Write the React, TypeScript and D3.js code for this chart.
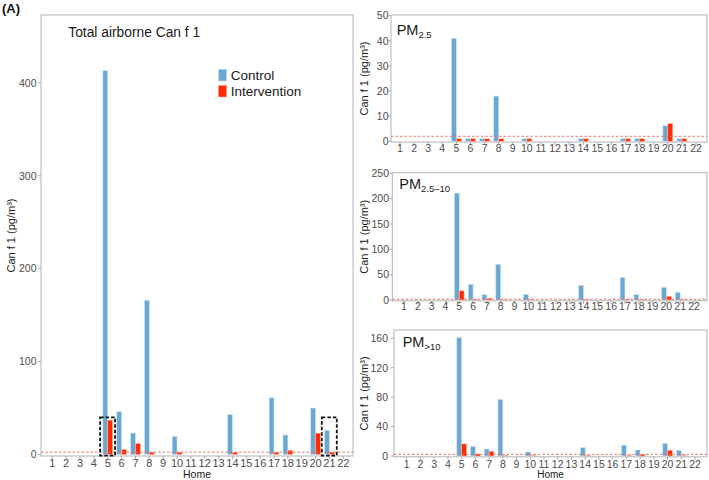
import React from "react";
import * as d3 from "d3";

const homes = ["1","2","3","4","5","6","7","8","9","10","11","12","13","14","15","16","17","18","19","20","21","22"];

const totalControl = [0,0,0,0,413,46,23,166,0,19.5,0,0,0,43,0,0,61,21,0,50,26,0];
const totalIntervention = [0,0,0,0,37,5.5,12,2.5,0,2.5,0,0,0,2.5,0,0,2.5,4.5,0,23,2.5,0];
const pm25Control = [0,0,0,0,41,1,1,18,0,1,0,0,0,1,0,0,1,1,0,6.2,1,0];
const pm25Intervention = [0,0,0,0,1,1,1,1,0,1,0,0,0,1,0,0,1,1,0,7,1,0];
const pm2510Control = [0,0,0,0,211,31,10.5,70.5,0,11,0,0,0,29,0,0,44,10.5,0,25,15,0];
const pm2510Intervention = [0,0,0,0,18,1,3.4,1,0,1,0,0,0,1,0,0,1,1,0,7.3,1,0];
const pm10Control = [0,0,0,0,161,12.8,9.5,77,0,5.5,0,0,0,11.4,0,0,14.6,8.2,0,17.3,7.8,0];
const pm10Intervention = [0,0,0,0,16.4,2.7,6.4,1,0,1,0,0,0,1,0,0,1,2.3,0,7.8,1,0];

const totalTicks = [0,100,200,300,400];
const pm25Ticks = [0,10,20,30,40,50];
const pm2510Ticks = [0,50,100,150,200,250];
const pm10Ticks = [0,40,80,120,160];

const lodTotal = 2.5;
const lodPm25 = 2;
const lodPm2510 = 1.5;
const lodPm10 = 2.2;

const highlightHomes = ["5","21"];
const highlightTop = 40;

const legendLabels = ["Control","Intervention"];

const BLUE = "#6aa8d2";
const BLUE_STROKE = "#cfe3f1";
const RED = "#ff2a00";
const RED_STROKE = "#ffb3a3";
const FONT = "'Liberation Sans', Arial, Helvetica, sans-serif";
const TICK_COLOR = "#4d4d4d";
const BORDER = "#b3b3b3";

type PanelProps = {
  left: number; right: number; top: number; bottom: number;
  y0: number; yTopVal: number; yTopPx: number;
  x1: number; x22: number;
  control: number[]; intervention: number[];
  ticks: number[]; lod: number;
  tickLabelEnd: number; tickFont: number;
  xLabelBaseline: number; xFont: number;
  yLabelX: number;
  showHome: boolean; homeBaseline: number; homeFont: number;
  title: React.ReactNode;
  children?: any;
};

function Panel(p: PanelProps) {
  const y = d3.scaleLinear().domain([0, p.yTopVal]).range([p.y0, p.yTopPx]);
  const xc = d3.scalePoint<string>().domain(homes).range([p.x1, p.x22]);
  const step = xc.step();
  const bw = step * 0.35;
  const cy = (p.top + p.bottom) / 2;
  return (
    <g>
      <rect x={p.left} y={p.top} width={p.right - p.left} height={p.bottom - p.top} fill="white" stroke={BORDER} strokeWidth={1} />
      {homes.map((h, i) => {
        const c = xc(h) as number;
        const vc = p.control[i];
        const vi = p.intervention[i];
        return (
          <g key={h}>
            {vc > 0 && (
              <rect x={c - bw} y={y(vc)} width={bw} height={p.y0 - y(vc)} fill={BLUE} stroke={BLUE_STROKE} strokeWidth={0.6} />
            )}
            {vi > 0 && (
              <rect x={c} y={y(vi)} width={bw} height={p.y0 - y(vi)} fill={RED} stroke={RED_STROKE} strokeWidth={0.6} />
            )}
          </g>
        );
      })}
      <line x1={p.left} x2={p.right} y1={y(p.lod)} y2={y(p.lod)} stroke="#e8736b" strokeWidth={1} strokeDasharray="2.5,2" />
      {p.children && p.children(y, xc, step)}
      {p.ticks.map((t) => (
        <g key={t}>
          <line x1={p.left - 3} x2={p.left} y1={y(t)} y2={y(t)} stroke="#999" strokeWidth={0.8} />
          <text x={p.tickLabelEnd} y={y(t)} dy="0.36em" textAnchor="end" fontSize={p.tickFont} fill={TICK_COLOR} fontFamily={FONT}>{t}</text>
        </g>
      ))}
      {homes.map((h) => (
        <g key={"x" + h}>
          <line x1={xc(h)} x2={xc(h)} y1={p.bottom} y2={p.bottom + 3} stroke="#999" strokeWidth={0.8} />
          <text x={xc(h)} y={p.xLabelBaseline} textAnchor="middle" fontSize={p.xFont} fill={TICK_COLOR} fontFamily={FONT}>{h}</text>
        </g>
      ))}
      <text transform={`translate(${p.yLabelX},${cy}) rotate(-90)`} textAnchor="middle" dy="0.35em" fontSize={11} fill="#1a1a1a" fontFamily={FONT}>Can f 1 (pg/m³)</text>
      {p.showHome && (
        <text x={(p.left + p.right) / 2} y={p.homeBaseline} textAnchor="middle" fontSize={p.homeFont} fill="#1a1a1a" fontFamily={FONT}>Home</text>
      )}
      {p.title}
    </g>
  );
}

function PMTitle({ x, y, sub }: { x: number; y: number; sub: string }) {
  return (
    <text x={x} y={y} fontSize={14.5} fill="#1a1a1a" fontFamily={FONT}>
      PM<tspan fontSize={9.5} dy={3}>{sub}</tspan>
    </text>
  );
}

export default function App() {
  return (
    <svg width={709} height={480} style={{ position: "absolute", left: 0, top: 0, background: "white" }}>
      <rect x={0} y={0} width={709} height={480} fill="white" />
      <text x={2} y={13} fontSize={13} fontWeight="bold" fill="#111" fontFamily={FONT}>(A)</text>

      <Panel
        left={41} right={353} top={15} bottom={456}
        y0={454.5} yTopVal={400} yTopPx={82.8}
        x1={52.3} x22={343.3}
        control={totalControl} intervention={totalIntervention}
        ticks={totalTicks} lod={lodTotal}
        tickLabelEnd={36.5} tickFont={10.5}
        xLabelBaseline={466.5} xFont={11}
        yLabelX={11.5}
        showHome={true} homeBaseline={477.5} homeFont={10.5}
        title={<text x={68.3} y={36.7} fontSize={13.8} fill="#1a1a1a" fontFamily={FONT}>Total airborne Can f 1</text>}
      >
        {(y: any, xc: any, step: number) => (
          <g>
            {highlightHomes.map((h) => (
              <rect key={h} x={(xc(h) as number) - step * 0.55} y={y(highlightTop)} width={step * 1.08} height={y(-1.2) - y(highlightTop)} fill="none" stroke="#111" strokeWidth={1.8} strokeDasharray="3.5,2" />
            ))}
            <g fontFamily={FONT} fontSize={13.5} fill="#1a1a1a">
              <rect x={218.3} y={69.3} width={8.4} height={11.7} fill={BLUE} stroke={BLUE_STROKE} strokeWidth={0.6} />
              <rect x={218.3} y={85.3} width={8.4} height={11.7} fill={RED} stroke={RED_STROKE} strokeWidth={0.6} />
              <text x={230.7} y={80}>{legendLabels[0]}</text>
              <text x={230.7} y={95.7}>{legendLabels[1]}</text>
            </g>
          </g>
        )}
      </Panel>

      <Panel
        left={391} right={707} top={15} bottom={142}
        y0={141.3} yTopVal={50} yTopPx={15.7}
        x1={400} x22={696}
        control={pm25Control} intervention={pm25Intervention}
        ticks={pm25Ticks} lod={lodPm25}
        tickLabelEnd={388.5} tickFont={10.5}
        xLabelBaseline={151.7} xFont={10.5}
        yLabelX={364}
        showHome={false} homeBaseline={0} homeFont={10}
        title={<PMTitle x={396.7} y={35} sub="2.5" />}
      />

      <Panel
        left={392.3} right={707} top={172.7} bottom={300.8}
        y0={300} yTopVal={250} yTopPx={173.3}
        x1={404} x22={694}
        control={pm2510Control} intervention={pm2510Intervention}
        ticks={pm2510Ticks} lod={lodPm2510}
        tickLabelEnd={389} tickFont={10.5}
        xLabelBaseline={310} xFont={10.5}
        yLabelX={364}
        showHome={false} homeBaseline={0} homeFont={10}
        title={<PMTitle x={399.3} y={188.7} sub="2.5–10" />}
      />

      <Panel
        left={394} right={707} top={330} bottom={456.8}
        y0={456} yTopVal={160} yTopPx={338.3}
        x1={406.7} x22={695}
        control={pm10Control} intervention={pm10Intervention}
        ticks={pm10Ticks} lod={lodPm10}
        tickLabelEnd={388} tickFont={10.5}
        xLabelBaseline={468} xFont={10.5}
        yLabelX={364}
        showHome={true} homeBaseline={478} homeFont={10}
        title={<PMTitle x={402.7} y={347} sub=">10" />}
      />
    </svg>
  );
}
